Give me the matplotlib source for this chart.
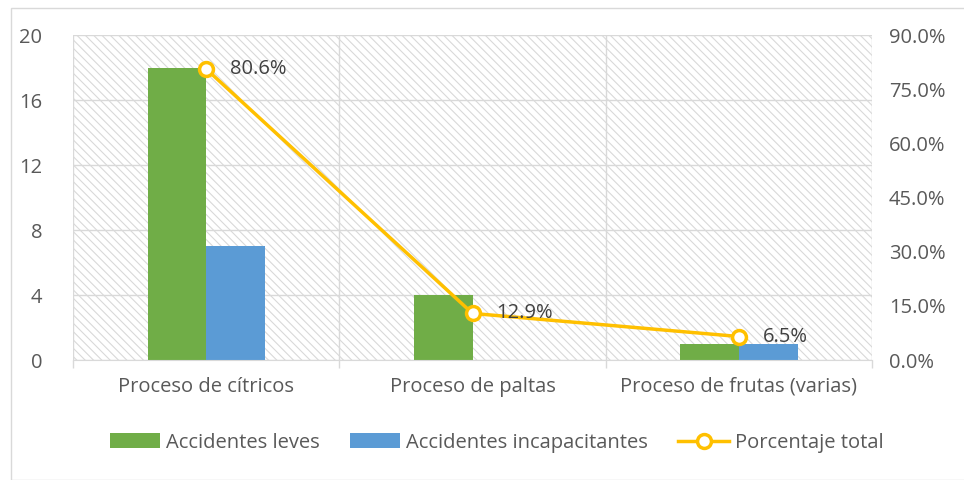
import numpy as np
import matplotlib.pyplot as plt
from matplotlib.patches import Rectangle
from matplotlib.ticker import FuncFormatter

plt.rcParams['font.family'] = ['Open Sans', 'DejaVu Sans']
plt.rcParams['hatch.color'] = '#d9d9d9'
plt.rcParams['hatch.linewidth'] = 0.8

# data
categorias = ['Proceso de cítricos', 'Proceso de paltas', 'Proceso de frutas (varias)']
leves = [18, 4, 1]
incapacitantes = [7, 0, 1]
porcentaje = [80.6, 12.9, 6.5]
etiquetas = ['80.6%', '12.9%', '6.5%']

gris = '#595959'
linea = '#d9d9d9'
verde = '#70ad47'
azul = '#5b9bd5'
oro = '#ffc000'
fs = 14.5

fig = plt.figure(figsize=(9.64, 4.8), dpi=100)
fig.patches.append(Rectangle((0.011, 0.0), 0.99, 0.983, transform=fig.transFigure,
                             fill=False, edgecolor=linea, linewidth=1))
ax = fig.add_axes([0.0757, 0.25, 0.829, 0.677])

x = np.arange(len(categorias))
w = 0.22

# hatched background
ax.add_patch(Rectangle((0, 0), 1, 1, transform=ax.transAxes, facecolor='white',
                       edgecolor='#d9d9d9', hatch='\\\\\\\\', linewidth=0, zorder=0))

ax.bar(x - w / 2, leves, w, color=verde, label='Accidentes leves', zorder=2)
ax.bar(x + w / 2, incapacitantes, w, color=azul, label='Accidentes incapacitantes', zorder=2)

ax.set_xlim(-0.5, 2.5)
ax.set_ylim(0, 20)
ax.set_yticks([0, 4, 8, 12, 16, 20])
ax.set_xticks(x)
ax.set_xticklabels(categorias)
ax.set_xticks([-0.5, 0.5, 1.5, 2.5], minor=True)
ax.tick_params(axis='x', which='major', length=0, pad=12, labelsize=fs, colors=gris)
ax.tick_params(axis='x', which='minor', length=6, color=linea, width=1)
ax.tick_params(axis='y', length=0, pad=22, labelsize=fs, colors=gris)
ax.grid(axis='y', color=linea, linewidth=1, zorder=1)
ax.grid(axis='x', which='minor', color=linea, linewidth=1, zorder=1)
for s in ax.spines.values():
    s.set_color(linea)
ax.spines['top'].set_visible(False)
ax.spines['left'].set_visible(False)
ax.spines['right'].set_visible(False)

ax2 = ax.twinx()
ax2.set_ylim(0, 90)
ax2.set_yticks(np.arange(0, 91, 15))
ax2.yaxis.set_major_formatter(FuncFormatter(lambda v, p: f'{v:.1f}%'))
ax2.tick_params(axis='y', length=0, pad=12, labelsize=fs, colors=gris)
for s in ax2.spines.values():
    s.set_visible(False)
ax2.plot(x, porcentaje, color=oro, linewidth=2.5, marker='o', markersize=10,
         markerfacecolor='white', markeredgecolor=oro, markeredgewidth=2.5,
         label='Porcentaje total', zorder=3)
for xi, yi, t in zip(x, porcentaje, etiquetas):
    ax2.annotate(t, (xi, yi), xytext=(17, 0), textcoords='offset points',
                 va='center', ha='left', fontsize=fs, color='#404040')

h1, l1 = ax.get_legend_handles_labels()
h2, l2 = ax2.get_legend_handles_labels()
fig.legend(h1 + h2, l1 + l2, loc='center', bbox_to_anchor=(0.515, 0.078), ncol=3,
           frameon=False, fontsize=fs, labelcolor=gris, handlelength=2.5,
           handletextpad=0.3, columnspacing=1.5)

fig.savefig('out.png', dpi=100)
